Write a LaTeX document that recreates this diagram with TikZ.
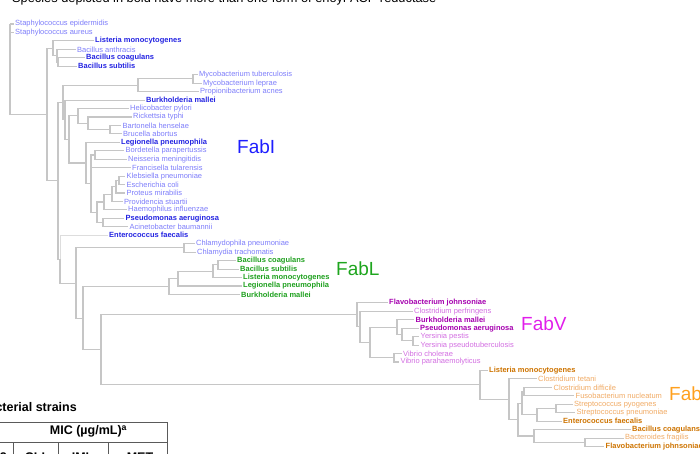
\documentclass[tikz,border=0pt]{standalone}
\usepackage{fontspec}
\setmainfont{Liberation Sans}

\definecolor{branchgray}{RGB}{198,198,198}
\definecolor{fabIpale}{RGB}{125,125,250}
\definecolor{fabIbold}{RGB}{35,35,225}
\definecolor{fabLgreen}{RGB}{30,160,30}
\definecolor{fabVpale}{RGB}{210,110,225}
\definecolor{fabVbold}{RGB}{165,0,175}
\definecolor{fabKpale}{RGB}{240,170,100}
\definecolor{fabKbold}{RGB}{205,115,0}
\definecolor{tabgray}{RGB}{90,90,90}

\tikzset{
  branch/.style={draw=branchgray, line width=1.1pt},
  faintbranch/.style={draw=branchgray!60, line width=0.8pt},
  leaf/.style={anchor=west, inner xsep=1.5pt, inner ysep=0pt, font=\fontsize{7.5}{9}\selectfont},
  paleI/.style={leaf, text=fabIpale},
  boldI/.style={leaf, text=fabIbold, font=\fontsize{7.5}{9}\selectfont\bfseries},
  leafL/.style={leaf, text=fabLgreen, font=\fontsize{7.5}{9}\selectfont\bfseries},
  paleV/.style={leaf, text=fabVpale},
  boldV/.style={leaf, text=fabVbold, font=\fontsize{7.5}{9}\selectfont\bfseries},
  paleK/.style={leaf, text=fabKpale},
  boldK/.style={leaf, text=fabKbold, font=\fontsize{7.5}{9}\selectfont\bfseries},
  grouplabel/.style={anchor=west, inner sep=0pt, font=\fontsize{19}{22}\selectfont},
  tabtext/.style={inner sep=0pt, font=\fontsize{12.5}{15}\selectfont\bfseries},
  tabrule/.style={draw=tabgray, line width=0.8pt},
}

\begin{document}
\begin{tikzpicture}[x=1pt, y=-1pt]

\useasboundingbox (0,0) rectangle (700,453);
\clip (0,0) rectangle (700,453);

\node (caption) at (12, 2.5) [anchor=base west, inner sep=0pt, font=\fontsize{12.8}{15}\selectfont] {Species depicted in bold have more than one form of enoyl-ACP reductase};

% leaves, FabI
\node (sepi) at (13.5, 24.0) [paleI] {Staphylococcus epidermidis};
\node (saur) at (13.5, 32.45) [paleI] {Staphylococcus aureus};
\node (lmonI) at (93.5, 40.9) [boldI] {Listeria monocytogenes};
\node (bant) at (75.5, 49.35) [paleI] {Bacillus anthracis};
\node (bcoaI) at (84.5, 57.8) [boldI] {Bacillus coagulans};
\node (bsubI) at (76.5, 66.25) [boldI] {Bacillus subtilis};
\node (mtub) at (197.5, 74.7) [paleI] {Mycobacterium tuberculosis};
\node (mlep) at (201.5, 83.15) [paleI] {Mycobacterium leprae};
\node (pacn) at (198.5, 91.6) [paleI] {Propionibacterium acnes};
\node (bmalI) at (144.5, 100.05) [boldI] {Burkholderia mallei};
\node (hpyl) at (128.5, 108.5) [paleI] {Helicobacter pylori};
\node (rtyp) at (131.5, 116.95) [paleI] {Rickettsia typhi};
\node (bhen) at (121, 125.4) [paleI] {Bartonella henselae};
\node (babo) at (121.5, 133.85) [paleI] {Brucella abortus};
\node (lpneI) at (119.5, 142.3) [boldI] {Legionella pneumophila};
\node (bpar) at (124, 150.75) [paleI] {Bordetella parapertussis};
\node (nmen) at (126.5, 159.2) [paleI] {Neisseria meningitidis};
\node (ftul) at (130.5, 167.65) [paleI] {Francisella tularensis};
\node (kpne) at (125, 176.1) [paleI] {Klebsiella pneumoniae};
\node (ecol) at (125, 184.55) [paleI] {Escherichia coli};
\node (pmir) at (125, 193.0) [paleI] {Proteus mirabilis};
\node (pstu) at (122.5, 201.45) [paleI] {Providencia stuartii};
\node (hinf) at (126.5, 209.9) [paleI] {Haemophilus influenzae};
\node (paerI) at (124, 218.35) [boldI] {Pseudomonas aeruginosa};
\node (abau) at (128, 226.8) [paleI] {Acinetobacter baumannii};
\node (efaeI) at (107.5, 235.25) [boldI] {Enterococcus faecalis};
\node (cpne) at (194.5, 243.7) [paleI] {Chlamydophila pneumoniae};
\node (ctra) at (195.5, 252.15) [paleI] {Chlamydia trachomatis};

% leaves, FabL
\node (bcoaL) at (235.5, 260.6) [leafL] {Bacillus coagulans};
\node (bsubL) at (238.5, 269.05) [leafL] {Bacillus subtilis};
\node (lmonL) at (241.5, 277.5) [leafL] {Listeria monocytogenes};
\node (lpneL) at (241.5, 285.95) [leafL] {Legionella pneumophila};
\node (bmalL) at (239.5, 294.4) [leafL] {Burkholderia mallei};

% leaves, FabV
\node (fjohV) at (387.5, 302.85) [boldV] {Flavobacterium johnsoniae};
\node (cperV) at (412.5, 311.3) [paleV] {Clostridium perfringens};
\node (bmalV) at (414, 319.75) [boldV] {Burkholderia mallei};
\node (paerV) at (418.5, 328.2) [boldV] {Pseudomonas aeruginosa};
\node (ypes) at (419, 336.65) [paleV] {Yersinia pestis};
\node (ypse) at (419, 345.1) [paleV] {Yersinia pseudotuberculosis};
\node (vcho) at (401.5, 353.55) [paleV] {Vibrio cholerae};
\node (vpar) at (399, 362.0) [paleV] {Vibrio parahaemolyticus};

% leaves, FabK
\node (lmonK) at (487.5, 370.45) [boldK] {Listeria monocytogenes};
\node (ctet) at (536.5, 378.9) [paleK] {Clostridium tetani};
\node (cdif) at (552, 387.35) [paleK] {Clostridium difficile};
\node (fnuc) at (574, 395.8) [paleK] {Fusobacterium nucleatum};
\node (spyo) at (572.5, 404.25) [paleK] {Streptococcus pyogenes};
\node (spne) at (575, 412.7) [paleK] {Streptococcus pneumoniae};
\node (efaeK) at (561.5, 421.15) [boldK] {Enterococcus faecalis};
\node (bcoaK) at (630.5, 429.6) [boldK] {Bacillus coagulans};
\node (bfra) at (623.5, 438.05) [paleK] {Bacteroides fragilis};
\node (fjohK) at (604, 446.5) [boldK] {Flavobacterium johnsoniae};

% group labels
\node (labI) at (237, 146.7) [grouplabel, text={rgb,255:red,30;green,30;blue,255}] {FabI};
\node (labL) at (336, 269) [grouplabel, text={rgb,255:red,30;green,165;blue,30}] {FabL};
\node (labV) at (521, 324) [grouplabel, text={rgb,255:red,225;green,30;blue,235}] {FabV};
\node (labK) at (669, 393.5) [grouplabel, text={rgb,255:red,255;green,160;blue,30}] {Fab};

% inner nodes
\coordinate (nroot) at (10, 24);
\coordinate (nD) at (47, 114.6);
\coordinate (nBacA) at (53, 48.3);
\coordinate (nBacB) at (57, 55.7);
\coordinate (nBacC) at (58, 62.0);
\coordinate (nE) at (58, 180.9);
\coordinate (nF1) at (63, 102.5);
\coordinate (nMycoClade) at (138, 85.3);
\coordinate (nMyco) at (193, 78.9);
\coordinate (nF2) at (65, 119.8);
\coordinate (nF3) at (69, 139.5);
\coordinate (nH1) at (78, 115.9);
\coordinate (nH2) at (88, 123.3);
\coordinate (nBartBruc) at (110, 129.6);
\coordinate (nL1) at (86, 163.0);
\coordinate (nL2) at (91, 183.7);
\coordinate (nBordNeis) at (95, 155.0);
\coordinate (nGamma) at (97, 212.3);
\coordinate (nEnt4) at (104, 202.0);
\coordinate (nEnt3) at (112, 194.1);
\coordinate (nEnt2) at (116, 186.7);
\coordinate (nEnt1) at (119, 180.3);
\coordinate (nPseuAcin) at (103, 222.6);
\coordinate (nG) at (60, 259.2);
\coordinate (nH) at (76, 283.1);
\coordinate (nChlam) at (184, 247.9);
\coordinate (nI) at (83, 318.2);
\coordinate (nFabL) at (169, 286.5);
\coordinate (nLK) at (178, 278.6);
\coordinate (nLL) at (213, 271.2);
\coordinate (nLM) at (218, 264.8);
\coordinate (nJ) at (101, 349.9);
\coordinate (nFabV) at (357, 314.9);
\coordinate (nVN) at (360, 326.9);
\coordinate (nVO) at (370, 342.4);
\coordinate (nVP) at (397, 327.1);
\coordinate (nVQ) at (402, 334.5);
\coordinate (nYers) at (413, 340.9);
\coordinate (nVib) at (394, 357.8);
\coordinate (nFabK) at (480, 384.9);
\coordinate (nK1) at (509, 399.3);
\coordinate (nK2) at (518, 419.6);
\coordinate (nK3) at (522, 403.2);
\coordinate (nDifFus) at (524, 391.6);
\coordinate (nK4) at (537, 414.8);
\coordinate (nStrep) at (556, 408.5);
\coordinate (nK6) at (534, 436.0);
\coordinate (nK7) at (585, 442.3);

% branches
\draw[branch] (nroot) |- (sepi.west) (nroot) |- (saur.west) (nroot) |- (nD);
\draw[branch] (nD) |- (nBacA) (nD) |- (nE);
\draw[branch] (nBacA) |- (lmonI.west) (nBacA) |- (nBacB);
\draw[branch] (nBacB) |- (bant.west) (nBacB) |- (nBacC);
\draw[branch] (nBacC) |- (bcoaI.west) (nBacC) |- (bsubI.west);
\draw[branch] (nE) |- (nF1) (nE) |- (nG);
\draw[branch] (nF1) |- (nMycoClade) (nF1) |- (nF2);
\draw[branch] (nMycoClade) |- (nMyco) (nMycoClade) |- (pacn.west);
\draw[branch] (nMyco) |- (mtub.west) (nMyco) |- (mlep.west);
\draw[branch] (nF2) |- (bmalI.west) (nF2) |- (nF3);
\draw[branch] (nF3) |- (nH1) (nF3) |- (nL1);
\draw[branch] (nH1) |- (hpyl.west) (nH1) |- (nH2);
\draw[branch] (nH2) |- (rtyp.west) (nH2) |- (nBartBruc);
\draw[branch] (nBartBruc) |- (bhen.west) (nBartBruc) |- (babo.west);
\draw[branch] (nL1) |- (lpneI.west) (nL1) |- (nL2);
\draw[branch] (nL2) |- (nBordNeis) (nL2) |- (ftul.west) (nL2) |- (nGamma);
\draw[branch] (nBordNeis) |- (bpar.west) (nBordNeis) |- (nmen.west);
\draw[branch] (nGamma) |- (nEnt4) (nGamma) |- (nPseuAcin);
\draw[branch] (nEnt4) |- (nEnt3) (nEnt4) |- (hinf.west);
\draw[branch] (nEnt3) |- (nEnt2) (nEnt3) |- (pstu.west);
\draw[branch] (nEnt2) |- (nEnt1) (nEnt2) |- (pmir.west);
\draw[branch] (nEnt1) |- (kpne.west) (nEnt1) |- (ecol.west);
\draw[branch] (nPseuAcin) |- (paerI.west) (nPseuAcin) |- (abau.west);
\draw[faintbranch] (nG) |- (efaeI.west);
\draw[branch] (nG) |- (nH);
\draw[branch] (nH) |- (nChlam) (nH) |- (nI);
\draw[branch] (nChlam) |- (cpne.west) (nChlam) |- (ctra.west);
\draw[branch] (nI) |- (nFabL) (nI) |- (nJ);
\draw[branch] (nFabL) |- (nLK) (nFabL) |- (bmalL.west);
\draw[branch] (nLK) |- (nLL) (nLK) |- (lpneL.west);
\draw[branch] (nLL) |- (nLM) (nLL) |- (lmonL.west);
\draw[branch] (nLM) |- (bcoaL.west) (nLM) |- (bsubL.west);
\draw[branch] (nJ) |- (nFabV) (nJ) |- (nFabK);
\draw[branch] (nFabV) |- (fjohV.west) (nFabV) |- (nVN);
\draw[branch] (nVN) |- (cperV.west) (nVN) |- (nVO);
\draw[branch] (nVO) |- (nVP) (nVO) |- (nVib);
\draw[branch] (nVP) |- (bmalV.west) (nVP) |- (nVQ);
\draw[branch] (nVQ) |- (paerV.west) (nVQ) |- (nYers);
\draw[branch] (nYers) |- (ypes.west) (nYers) |- (ypse.west);
\draw[branch] (nVib) |- (vcho.west) (nVib) |- (vpar.west);
\draw[branch] (nFabK) |- (lmonK.west) (nFabK) |- (nK1);
\draw[branch] (nK1) |- (ctet.west) (nK1) |- (nK2);
\draw[branch] (nK2) |- (nK3) (nK2) |- (nK6);
\draw[branch] (nK3) |- (nDifFus) (nK3) |- (nK4);
\draw[branch] (nDifFus) |- (cdif.west) (nDifFus) |- (fnuc.west);
\draw[branch] (nK4) |- (nStrep) (nK4) |- (efaeK.west);
\draw[branch] (nStrep) |- (spyo.west) (nStrep) |- (spne.west);
\draw[branch] (nK6) |- (bcoaK.west) (nK6) |- (nK7);
\draw[branch] (nK7) |- (bfra.west) (nK7) |- (fjohK.west);

% table fragment
\node (tabtitle) at (77, 407) [tabtext, anchor=east] {cterial strains};
\draw[tabrule] (0, 422) -- (167, 422);
\draw[tabrule] (0, 442) -- (167, 442);
\draw[tabrule] (167, 422) -- (167, 460);
\draw[tabrule] (13, 442) -- (13, 460);
\draw[tabrule] (58, 442) -- (58, 460);
\draw[tabrule] (108, 442) -- (108, 460);
\node (mic) at (88.5, 431.5) [tabtext] {MIC (µg/mL)\textsuperscript{a}};
\node (colA) at (7, 461) [tabtext, anchor=base east] {2};
\node (colB) at (35, 461) [tabtext, anchor=base] {CLI};
\node (colC) at (80.5, 461) [tabtext, anchor=base] {IMI};
\node (colD) at (140, 461) [tabtext, anchor=base] {MET};

\end{tikzpicture}
\end{document}
